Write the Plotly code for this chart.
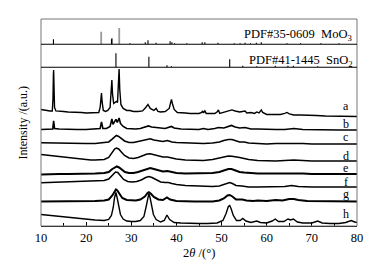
import plotly.graph_objects as go

# ---------------- data (2θ in degrees, intensity in a.u.) ----------------
THETA_A = [10, 11, 12, 12.5, 12.65, 12.75, 12.8, 12.9, 13.0, 13.3, 14, 15, 16, 17, 18, 19, 20, 21, 22, 22.8,
           23.1, 23.3, 23.4, 23.55, 23.8, 24.3, 24.8, 25.3, 25.55, 25.7, 25.85, 26.1, 26.4, 26.7, 26.95, 27.15,
           27.3, 27.45, 27.7, 28.2, 29, 29.7, 30.5, 31.5, 32.5, 33.2, 33.7, 34.2, 35, 35.5, 35.9, 36.5, 37.5,
           38.4, 38.7, 38.9, 39.1, 39.5, 40.2, 41, 42, 43, 44, 45, 45.6, 45.8, 46.0, 46.3, 46.6, 47.5, 48.5,
           49.1, 49.3, 49.6, 50.5, 51.5, 52.3, 53, 54, 55.2, 55.6, 56.5, 57.3, 57.8, 58.3, 58.8, 59.1, 60, 61,
           62, 63, 64, 64.5, 65, 66, 67.5, 69, 71, 73, 75, 77, 80]
INT_A = [6.5, 5.5, 5, 5, 16.5, 41.5, 46, 26.5, 8.5, 5, 4.5, 4.5, 4, 4, 3.5, 3.5, 3, 3, 3, 3.5,
         8.5, 22.5, 23, 13.5, 5.5, 4.5, 5.5, 8.5, 21.5, 36, 21.5, 12.5, 13.5, 14.5, 13.5, 26.5,
         47, 26.5, 11.5, 7.5, 5.5, 5.5, 4.5, 4.5, 5, 8.5, 11.5, 7.5, 5.5, 7.5, 4.5, 4, 4.5,
         7.5, 14.5, 16.5, 12.5, 6.5, 3.5, 3.5, 3, 2.5, 2.5, 2.5, 3.5, 5, 3, 5, 2.5, 2.5, 2.5,
         4.5, 6, 2.5, 3.5, 5, 6, 5, 4, 5, 3, 3.5, 2.5, 4, 3, 6, 3.5, 1.5, 1.5,
         2, 1.5, 2.5, 3.5, 2, 1, 1, 0.5, 0.5, 0, 0, -0.5, -0.5]

THETA_B = [10, 11, 12, 12.6, 12.8, 13.0, 14, 16, 18, 20, 22, 23.1, 23.4, 23.7, 24.5, 25.3, 25.7, 25.95, 26.2,
           26.6, 26.9, 27.3, 27.6, 28.2, 29, 30, 31, 32, 33, 33.8, 34.5, 35.5, 36.5, 37.5, 38.9, 39.5, 41,
           43, 45, 46, 47, 48.5, 49.3, 50.5, 51.5, 52.2, 53, 54, 55.2, 56.5, 58, 60, 62, 64, 66, 68, 72, 76, 80]
INT_B = [0.5, 0.5, 0.5, 1, 9, 1.5, 1, 0.5, 0.5, 0.5, 1, 1.5, 8, 1.5, 1.5, 3.5, 11, 5.5, 7.5,
         10.5, 7.5, 12, 6.5, 3.5, 1.5, 1, 1, 1.5, 2.5, 4, 3, 2.5, 1.5, 1.5, 3.5, 2, 1,
         0.5, 0.5, 1.5, 0.5, 1.5, 2.5, 2, 3.5, 4.5, 3, 2, 2.5, 1, 1, 0.5, 0.5, 0.5, 1.5, 0.5, 0, 0, 0]

THETA_C = [10, 12, 14, 16, 18, 20, 22, 24, 25, 25.7, 26.3, 26.7, 27.2, 27.8, 28.5, 29.5, 30.5, 31.5, 32.5,
           33.5, 34.2, 35, 36, 37, 38, 39, 40, 42, 44, 46, 48, 49.5, 50.5, 51.5, 52.3, 53, 54, 55, 56, 58,
           60, 62, 64, 66, 68, 70, 74, 80]
INT_C = [1.2, 1, 0.5, 0.5, 0.5, 0.5, 0.5, 1, 2, 4.5, 7.5, 8.5, 7.5, 5, 3, 1.5, 1.5, 2.5, 3.5,
         5, 5.2, 4, 3, 2.5, 3.5, 2, 1.5, 1, 0.5, 0.5, 1, 2, 3.5, 4.5, 4.5, 3.5, 2, 2, 1, 0.5,
         0, 0.5, 0.5, 1, 0.5, 0, 0, 0]

THETA_D = [10, 11, 12, 13, 14, 15, 16, 17, 18, 19, 20, 21, 22, 23, 24, 25, 25.7, 26.3, 26.7, 27.2, 27.8,
           28.5, 29.5, 30.5, 31.5, 32.5, 33.5, 34.2, 35, 36, 37, 38, 39, 40, 42, 44, 46, 48, 49.5, 50.5,
           51.5, 52.3, 53, 54, 55, 56, 58, 60, 62, 64, 66, 68, 70, 74, 80]
INT_D = [6.5, 6, 5.5, 5, 4, 3.5, 3, 2.5, 2, 1.5, 1.5, 1, 1, 1, 1.5, 3.5, 8.5, 12, 13, 12, 9,
         5.5, 3, 2.5, 3.5, 5, 7, 7.2, 6.5, 5, 4, 4, 3, 2, 1, 0.5, 0.5, 1.5, 3, 4,
         5, 4.8, 4.5, 3.5, 2.5, 1.5, 0.5, 0, 0, 0.5, 1, 0.5, 0, 0, 0]

THETA_E = [10, 12, 14, 16, 18, 20, 22, 24, 25, 25.8, 26.4, 26.8, 27.3, 27.9, 28.6, 29.5, 30.5, 31.5, 32.5,
           33.5, 34.2, 35, 36, 37, 38, 39, 40, 42, 44, 46, 48, 49.5, 50.5, 51.5, 52.2, 53, 54, 55, 56, 58,
           60, 62, 64, 66, 68, 70, 74, 80]
INT_E = [-0.5, 0, 0, 0, 0, 0.5, 0.5, 1, 2, 5, 7, 7.5, 6.5, 4, 2, 1, 1, 2, 3.5,
         5.5, 6, 5, 3.5, 2.5, 3, 2, 1, 0.5, 0.5, 0.5, 1, 2, 3.5, 5, 5, 3.5, 2, 1.5, 1, 0.5,
         0.5, 0.5, 1, 1, 0.5, 0, 0, 0]

THETA_F = [10, 12, 14, 16, 18, 20, 22, 24, 25, 25.8, 26.5, 27.0, 27.6, 28.3, 29.2, 30.2, 31.2, 32.2, 33.2,
           33.9, 34.6, 35.5, 36.5, 37.5, 38.2, 39, 40, 42, 44, 46, 48, 49.5, 50.5, 51.3, 51.8, 52.4, 53.2,
           54.5, 56, 58, 60, 62, 64, 65.5, 67, 70, 74, 80]
INT_F = [4.2, 4.5, 5, 5.5, 6, 6, 6, 6.5, 8, 12, 15, 14.5, 11, 7.5, 5.5, 5, 5.5, 7, 9.5,
         10.5, 9.5, 7, 5, 4.5, 4.5, 3.5, 2.5, 1.5, 1, 0.5, 0.5, 1, 2.5, 4, 4.5, 3.5, 1.5,
         1, 0, 0, 0, 0.5, 0.5, 1.5, 0.5, 0, 0, 0]

THETA_G = [10, 12, 14, 16, 18, 20, 22, 24, 25, 25.8, 26.3, 26.6, 26.9, 27.4, 28.0, 29, 30, 31, 32, 33,
           33.6, 33.9, 34.3, 35, 36, 37, 37.9, 38.6, 40, 42, 44, 46, 48, 49.5, 50.5, 51.3, 51.8, 52.4,
           53.2, 54.6, 55.5, 57, 58, 60, 62, 63.5, 65, 66, 67, 69, 71.5, 75, 78.5, 80]
INT_G = [0.5, 0.5, 0.5, 1, 1, 1, 1, 1.5, 2.5, 6.5, 11, 12.5, 11.5, 7.5, 4, 2, 1.5, 1.5, 2.5, 5.5,
         9, 9.8, 8.5, 5, 2.5, 2, 4.5, 2.5, 1, 0.5, 0.5, 0.5, 0.5, 1.5, 3.5, 6.5, 7, 5.5,
         2.5, 2.5, 1.5, 1, 1.5, 1, 2, 1.5, 3, 3, 2, 1, 1, 0.5, 1, 0.5]

THETA_H = [10, 12, 14, 16, 18, 20, 22, 24, 25, 25.6, 26.0, 26.3, 26.6, 26.9, 27.2, 27.6, 28.2, 29, 30, 31,
           32, 32.8, 33.3, 33.6, 33.9, 34.2, 34.5, 34.9, 35.5, 36.5, 37.3, 37.9, 38.5, 39.5, 41, 43, 45,
           47, 49, 50.3, 51.0, 51.5, 51.8, 52.1, 52.6, 53.3, 54.1, 54.7, 55.4, 56.5, 57.8, 58.6, 60, 61.2,
           61.9, 62.6, 63.8, 64.7, 65.3, 65.9, 66.8, 68, 70, 71.3, 72.3, 74, 76, 77.5, 78.7, 79.5, 80]
INT_H = [9.5, 8.5, 7.5, 6.5, 6, 5, 4, 3.5, 4.5, 8.5, 16.5, 26.5, 31.5, 25.5, 16.5, 9.5, 5, 3, 2.5, 2.5,
         3.5, 7.5, 17.5, 26.5, 30.5, 25.5, 17.5, 9.5, 4.5, 2, 3.5, 9, 4.5, 1.5, 1, 0.5, 0.5,
         0.5, 1, 3.5, 10.5, 17.5, 18.5, 15.5, 8.5, 3.5, 3.5, 5.5, 3, 1.5, 3, 1.5, 1, 3,
         5, 2.5, 2.5, 5, 4, 5, 2, 1, 1, 3, 1, 0.5, 0.5, 1.5, 3.5, 2, 1.5]

SAMPLE_LABELS = ["a", "b", "c", "d", "e", "f", "g", "h"]
SAMPLE_THETA = [THETA_A, THETA_B, THETA_C, THETA_D, THETA_E, THETA_F, THETA_G, THETA_H]
SAMPLE_INT = [INT_A, INT_B, INT_C, INT_D, INT_E, INT_F, INT_G, INT_H]

# reference patterns
MOO3_POS = [12.76, 23.33, 25.62, 25.72, 27.33, 29.7, 33.1, 33.7, 35.5, 38.6, 39.0, 39.6, 42.3, 45.7, 46.3,
            49.2, 52.8, 54.1, 55.2, 56.4, 57.7, 58.8, 64.5, 67.5, 72.0, 76.0]
MOO3_INT = [5, 12.5, 5, 6, 16, 1, 2, 4, 1.5, 3, 2, 1, 1, 2, 2,
            1.5, 1, 1, 1.5, 1, 1.5, 2, 1, 1, 1, 1]
MOO3_STRONG = [23.33, 27.33]
SNO2_POS = [26.6, 33.9, 37.9, 38.9, 51.8, 54.7, 57.8, 61.9, 64.7, 65.9, 71.3, 78.7]
SNO2_INT = [14, 10.5, 2, 1, 8, 1.5, 1, 1.5, 1.5, 1.5, 1, 1]

X_TICKS = [10, 20, 30, 40, 50, 60, 70, 80]

# ---------------- display constants ----------------
OFFSETS = [110, 96, 82, 65, 52, 39, 24, 2]
LABEL_Y = [119.5, 101.5, 88.5, 69.5, 57.5, 43.5, 31.5, 11.5]
LINE_W = [1.4, 1.6, 1.6, 1.5, 2.0, 1.5, 2.0, 1.4]
SERIF = "Liberation Serif"

fig = go.Figure()

for th, it, off, w in zip(SAMPLE_THETA, SAMPLE_INT, OFFSETS, LINE_W):
    fig.add_trace(go.Scatter(x=th, y=[v + off for v in it], mode="lines",
                             line=dict(color="black", width=w),
                             xaxis="x", yaxis="y", showlegend=False, hoverinfo="skip"))


def sticks(pos, inten):
    xs, ys = [], []
    for p, h in zip(pos, inten):
        xs += [p, p, None]
        ys += [0, h, None]
    return xs, ys


mo_black = [(p, h) for p, h in zip(MOO3_POS, MOO3_INT) if p not in MOO3_STRONG]
mo_gray = [(p, h) for p, h in zip(MOO3_POS, MOO3_INT) if p in MOO3_STRONG]
x1, y1 = sticks([p for p, _ in mo_black], [h for _, h in mo_black])
x2, y2 = sticks([p for p, _ in mo_gray], [h for _, h in mo_gray])
fig.add_trace(go.Scatter(x=x1, y=y1, mode="lines", line=dict(color="black", width=1.1),
                         xaxis="x", yaxis="y3", showlegend=False, hoverinfo="skip"))
fig.add_trace(go.Scatter(x=x2, y=y2, mode="lines", line=dict(color="#9a9a9a", width=1.8),
                         xaxis="x", yaxis="y3", showlegend=False, hoverinfo="skip"))
x3, y3 = sticks(SNO2_POS, SNO2_INT)
fig.add_trace(go.Scatter(x=x3, y=y3, mode="lines", line=dict(color="black", width=1.1),
                         xaxis="x", yaxis="y2", showlegend=False, hoverinfo="skip"))

D_MAIN = 0.767
D_SN = 0.878

annotations = []
for lab, ly in zip(SAMPLE_LABELS, LABEL_Y):
    annotations.append(dict(x=77.5, y=ly, xref="x", yref="y", text=lab, showarrow=False,
                            font=dict(family=SERIF, size=12, color="black"),
                            xanchor="center", yanchor="middle"))
annotations += [
    dict(x=0.994, y=0.925, xref="paper", yref="paper", text="PDF#35-0609  MoO<sub>3</sub>",
         showarrow=False, xanchor="right", yanchor="middle",
         font=dict(family=SERIF, size=12.5, color="black")),
    dict(x=0.994, y=0.797, xref="paper", yref="paper", text="PDF#41-1445  SnO<sub>2</sub>",
         showarrow=False, xanchor="right", yanchor="middle",
         font=dict(family=SERIF, size=12.5, color="black")),
    dict(x=-0.06, y=0.5, xref="paper", yref="paper", text="Intensity /(a.u.)", textangle=-90,
         showarrow=False, xanchor="center", yanchor="middle",
         font=dict(family=SERIF, size=12, color="black")),
    dict(x=0.5, y=-0.13, xref="paper", yref="paper", text="2<i>θ</i> /(°)",
         showarrow=False, xanchor="center", yanchor="middle",
         font=dict(family=SERIF, size=12.5, color="black")),
]

shapes = [
    dict(type="rect", xref="paper", yref="paper", x0=0, y0=0, x1=1, y1=1,
         line=dict(color="#777777", width=1)),
    dict(type="line", xref="paper", yref="paper", x0=0, x1=1, y0=D_MAIN, y1=D_MAIN,
         line=dict(color="black", width=1.2)),
    dict(type="line", xref="paper", yref="paper", x0=0, x1=1, y0=D_SN, y1=D_SN,
         line=dict(color="black", width=1.2)),
]

fig.update_layout(
    width=375, height=268,
    margin=dict(l=41, r=18, t=19, b=42),
    paper_bgcolor="white", plot_bgcolor="white",
    font=dict(family=SERIF, color="black"),
    xaxis=dict(domain=[0, 1], range=[10, 80], anchor="y", showline=True, linecolor="black",
               linewidth=1.2, ticks="inside", ticklen=4, tickwidth=1, tickcolor="black",
               tickvals=X_TICKS, ticktext=[str(t) for t in X_TICKS],
               minor=dict(ticks="inside", tickvals=[15, 25, 35, 45, 55, 65, 75], ticklen=3,
                          tickcolor="black"),
               showgrid=False, zeroline=False,
               tickfont=dict(family=SERIF, size=12.5, color="black")),
    yaxis=dict(domain=[0, D_MAIN], range=[0, 158.7], visible=False, fixedrange=True),
    yaxis2=dict(domain=[D_MAIN, D_SN], range=[0, 23], visible=False, anchor="x"),
    yaxis3=dict(domain=[D_SN, 1], range=[0, 25], visible=False, anchor="x"),
    annotations=annotations,
    shapes=shapes,
)

fig.write_html("out.html",
               config={"displayModeBar": False, "staticPlot": True},
               post_script="document.body.style.margin='0px';document.body.style.overflow='hidden';")
